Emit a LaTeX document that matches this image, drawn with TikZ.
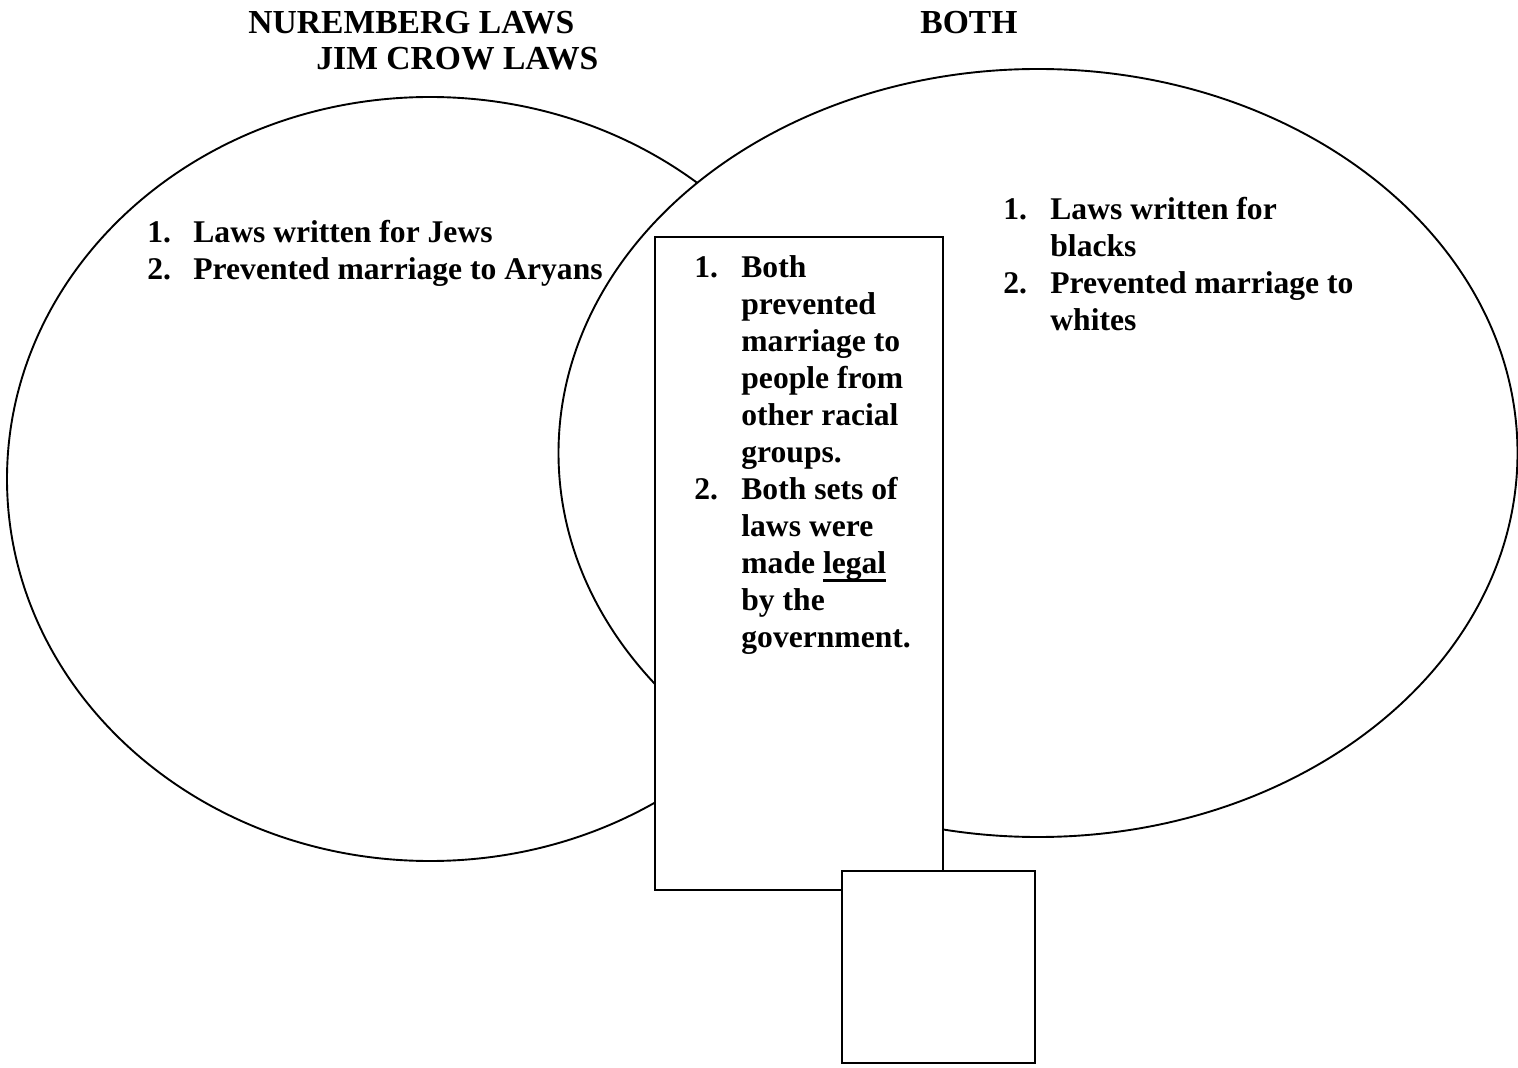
\documentclass[tikz,border=0pt]{standalone}
\usepackage{fontspec}
\setmainfont{Liberation Serif}
\newcommand{\ulword}[1]{\setbox0\hbox{#1}\rlap{\rule[-3.8pt]{\wd0}{1.1pt}}\box0}

\begin{document}
\begin{tikzpicture}[
  x=0.5pt, y=-0.5pt,
  venn/.style={line width=0.95pt},
  panel/.style={draw, line width=0.95pt, fill=white},
  hdr/.style={font=\fontsize{16.8}{19}\selectfont\bfseries, anchor=base west, inner sep=0pt},
  lst/.style={font=\fontsize{15.8}{18.5}\selectfont\bfseries, anchor=base west, inner sep=0pt, align=left}
]
  \useasboundingbox (0,0) rectangle (1518,1068);
  % Venn ellipses, right one covers the left one
  \draw[venn] (430,479) ellipse [x radius=211.5pt, y radius=191pt];
  \draw[venn, fill=white] (1038,453) ellipse [x radius=239.75pt, y radius=192pt];
  % middle box and the small box below it
  \draw[panel] (655,237) rectangle (943,890);
  \draw[panel] (842,871) rectangle (1035,1063);
  % Headers
  \node[hdr] (nuremberg) at (248,34) {NUREMBERG LAWS};
  \node[hdr] (jimcrow) at (316,70) {JIM CROW LAWS};
  \node[hdr] (both) at (920,34) {BOTH};
  % Left list
  \node[lst] (jews) at (147,243) {\begin{tabular}[t]{@{}p{23pt}@{}l@{}}
    1. & Laws written for Jews\\
    2. & Prevented marriage to Aryans
  \end{tabular}};
  % Middle list
  \node[lst] (common) at (694,278) {\begin{tabular}[t]{@{}p{23.5pt}@{}l@{}}
    1. & Both\\
       & prevented\\
       & marriage to\\
       & people from\\
       & other racial\\
       & groups.\\
    2. & Both sets of\\
       & laws were\\
       & made \ulword{legal}\\
       & by the\\
       & government.
  \end{tabular}};
  % Right list
  \node[lst] (blacks) at (1003,220) {\begin{tabular}[t]{@{}p{23.5pt}@{}l@{}}
    1. & Laws written for\\
       & blacks\\
    2. & Prevented marriage to\\
       & whites
  \end{tabular}};
\end{tikzpicture}
\end{document}
